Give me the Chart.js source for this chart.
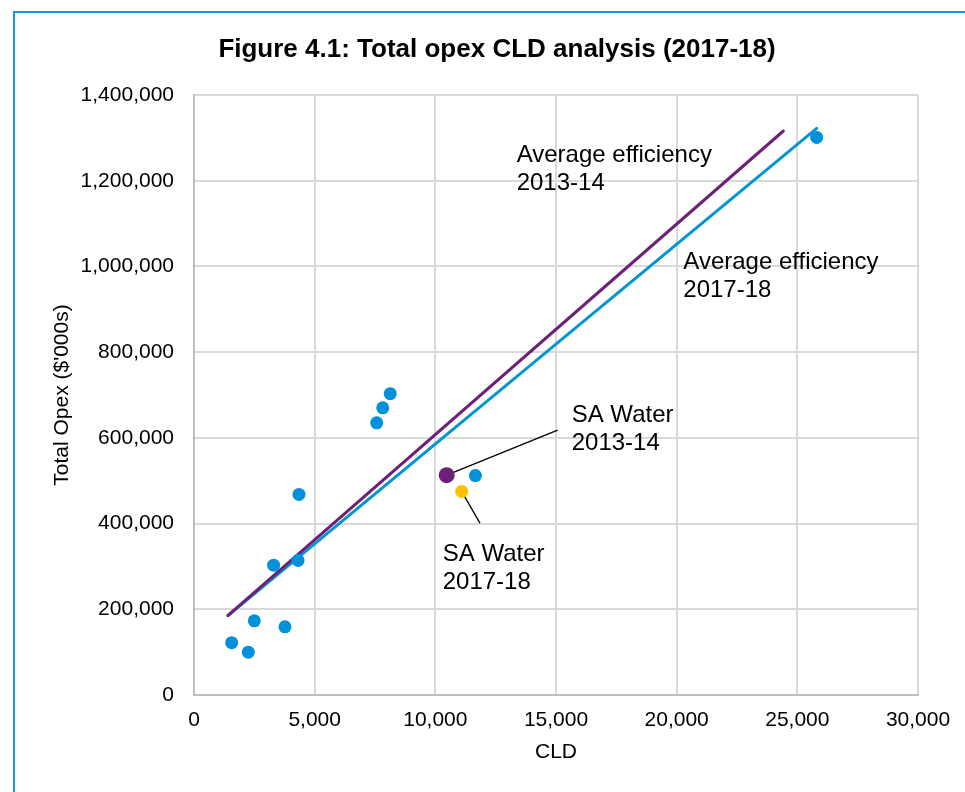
<!DOCTYPE html>
<html>
<head>
<meta charset="utf-8">
<title>Figure 4.1: Total opex CLD analysis (2017-18)</title>
<script src="https://cdn.jsdelivr.net/npm/chart.js@4.4.1/dist/chart.umd.min.js"></script>
<style>
  html, body { margin: 0; padding: 0; background: #fff; overflow: hidden; }
  #frame {
    position: absolute; left: 13px; top: 11px;
    width: 1000px; height: 900px;
    border: 2px solid #1e96dc;
  }
  #wrap { position: absolute; left: 0; top: 0; width: 965px; height: 792px; }
</style>
</head>
<body>
<div id="frame"></div>
<div id="wrap"><canvas id="cldChart"></canvas></div>
<script>
const chartTitle = 'Figure 4.1: Total opex CLD analysis (2017-18)';

// businesses (CLD vs total opex, $'000s)
const cldValues  = [1560, 2250, 2500, 3770, 3300, 4310, 4350, 7570, 7820, 8130, 11660, 25800];
const opexValues = [122000, 100000, 173000, 159000, 303000, 314000, 468000, 635000, 670000, 703000, 512000, 1301000];

// SA Water points
const saWater1314 = [10470, 513000];
const saWater1718 = [11090, 475000];

// average efficiency lines (start / end)
const eff1314X = [1400, 24420];
const eff1314Y = [185000, 1316000];
const eff1718X = [1420, 25800];
const eff1718Y = [186000, 1322000];

// callout labels
const labelTexts = [
  ['Average efficiency', '2013-14'],
  ['Average efficiency', '2017-18'],
  ['SA Water', '2013-14'],
  ['SA Water', '2017-18']
];
const labelX = [13370, 20275, 15650, 10305];
const labelY = [1243000, 994000, 637000, 313000];

// leader line ends (from SA Water points)
const leader1314 = [15070, 618000];
const leader1718 = [11850, 401000];

const xTicks = [0, 5000, 10000, 15000, 20000, 25000, 30000];
const yTicks = [0, 200000, 400000, 600000, 800000, 1000000, 1200000, 1400000];

const FONT = "'Liberation Sans', Arial, sans-serif";
const BLUE = '#0091da';
const PURPLE = '#6d2077';
const GOLD = '#ffc000';

const toPts = (xs, ys) => xs.map((x, i) => ({ x: x, y: ys[i] }));

const labelPlugin = {
  id: 'calloutLabels',
  afterDatasetsDraw(chart) {
    const ctx = chart.ctx;
    const xs = chart.scales.x, ys = chart.scales.y;
    ctx.save();
    ctx.fillStyle = '#000';
    ctx.font = '24px ' + FONT;
    ctx.textAlign = 'left';
    ctx.textBaseline = 'alphabetic';
    labelTexts.forEach((lines, i) => {
      const px = xs.getPixelForValue(labelX[i]);
      const py = ys.getPixelForValue(labelY[i]);
      lines.forEach((t, j) => ctx.fillText(t, px, py + j * 28));
    });

    // title, centred a bit right of the plot like the original figure
    ctx.font = 'bold 26px ' + FONT;
    ctx.textAlign = 'center';
    ctx.textBaseline = 'middle';
    ctx.fillText(chartTitle, 497, 50);
    ctx.restore();
  }
};

new Chart(document.getElementById('cldChart'), {
  type: 'scatter',
  data: {
    datasets: [
      {
        label: 'SA Water 2013-14',
        data: [{ x: saWater1314[0], y: saWater1314[1] }],
        backgroundColor: PURPLE, borderWidth: 0, pointRadius: 8
      },
      {
        label: 'SA Water 2017-18',
        data: [{ x: saWater1718[0], y: saWater1718[1] }],
        backgroundColor: GOLD, borderWidth: 0, pointRadius: 6.5
      },
      {
        label: 'Businesses',
        data: toPts(cldValues, opexValues),
        backgroundColor: BLUE, borderWidth: 0, pointRadius: 6.5
      },
      {
        label: 'Average efficiency 2013-14',
        type: 'line',
        data: toPts(eff1314X, eff1314Y),
        borderColor: PURPLE, borderWidth: 3, borderCapStyle: 'round',
        pointRadius: 0, fill: false
      },
      {
        label: 'Average efficiency 2017-18',
        type: 'line',
        data: toPts(eff1718X, eff1718Y),
        borderColor: '#0096d6', borderWidth: 3, borderCapStyle: 'round',
        pointRadius: 0, fill: false
      },
      {
        label: 'leader 2013-14',
        type: 'line',
        data: [{ x: saWater1314[0], y: saWater1314[1] }, { x: leader1314[0], y: leader1314[1] }],
        borderColor: '#000', borderWidth: 1.3, pointRadius: 0, fill: false
      },
      {
        label: 'leader 2017-18',
        type: 'line',
        data: [{ x: saWater1718[0], y: saWater1718[1] }, { x: leader1718[0], y: leader1718[1] }],
        borderColor: '#000', borderWidth: 1.3, pointRadius: 0, fill: false
      }
    ]
  },
  options: {
    responsive: true,
    maintainAspectRatio: false,
    animation: false,
    layout: { padding: { left: 0, right: 47, top: 95, bottom: 27 } },
    plugins: {
      legend: { display: false },
      tooltip: { enabled: false },
      title: { display: false }
    },
    scales: {
      x: {
        type: 'linear', min: 0, max: 30000,
        afterFit: s => { s.height = 70; },
        afterBuildTicks: s => { s.ticks = xTicks.map(v => ({ value: v })); },
        ticks: {
          padding: 13, color: '#000',
          font: { family: FONT, size: 21 },
          callback: v => v.toLocaleString('en-US')
        },
        grid: { color: '#d9d9d9', lineWidth: 2, drawTicks: false },
        border: { color: '#bfbfbf', width: 2 },
        title: {
          display: true, text: 'CLD', color: '#000',
          font: { family: FONT, size: 21 }, padding: { top: 0, bottom: 0 }
        }
      },
      y: {
        type: 'linear', min: 0, max: 1400000,
        afterFit: s => { s.width = 194; },
        afterBuildTicks: s => { s.ticks = yTicks.map(v => ({ value: v })); },
        ticks: {
          padding: 20, color: '#000',
          font: { family: FONT, size: 21 },
          callback: v => v.toLocaleString('en-US')
        },
        grid: { color: '#d9d9d9', lineWidth: 2, drawTicks: false },
        border: { color: '#bfbfbf', width: 2 },
        title: {
          display: true, text: "Total Opex ($'000s)", color: '#000',
          font: { family: FONT, size: 21 }, padding: { top: 50, bottom: 0 }
        }
      }
    }
  },
  plugins: [labelPlugin]
});
</script>
</body>
</html>
